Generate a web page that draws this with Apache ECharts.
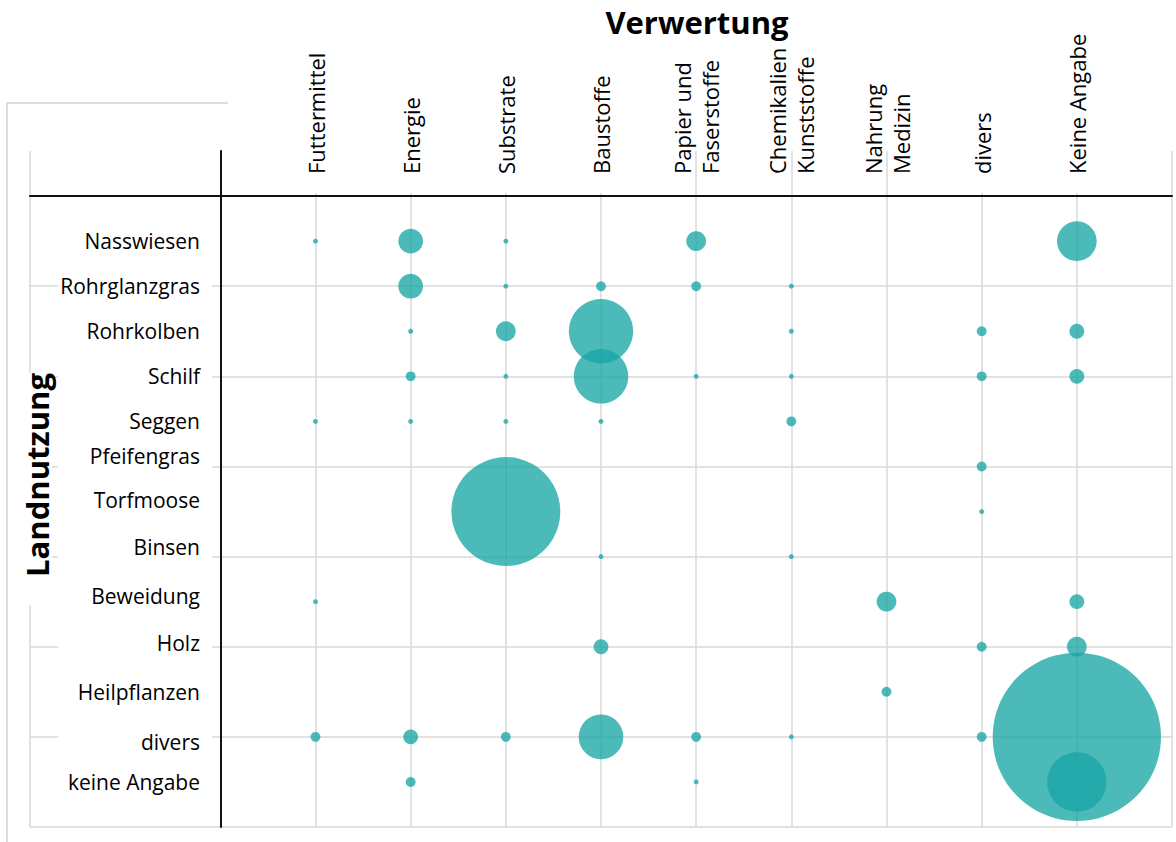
<!DOCTYPE html>
<html>
<head>
<meta charset="utf-8">
<script src="https://cdn.jsdelivr.net/npm/echarts@6/dist/echarts.min.js"></script>
<style>
html,body{margin:0;padding:0;background:#fff;}
#chart{width:1176px;height:842px;}
</style>
</head>
<body>
<div id="chart"></div>
<script>
// Column categories (Verwertung)
const xCategories = ['Futtermittel', 'Energie', 'Substrate', 'Baustoffe', 'Papier und\nFaserstoffe',
  'Chemikalien\nKunststoffe', 'Nahrung\nMedizin', 'divers', 'Keine Angabe'];
// Row categories (Landnutzung)
const yCategories = ['Nasswiesen', 'Rohrglanzgras', 'Rohrkolben', 'Schilf', 'Seggen', 'Pfeifengras',
  'Torfmoose', 'Binsen', 'Beweidung', 'Holz', 'Heilpflanzen', 'divers', 'keine Angabe'];

// Counts per row, in the order of xCategories (0 = no bubble)
const nasswiesen     = [1, 5, 1, 0, 4, 0, 0, 0, 8];
const rohrglanzgras  = [0, 5, 1, 2, 2, 1, 0, 0, 0];
const rohrkolben     = [0, 1, 4, 13, 0, 1, 0, 2, 3];
const schilf         = [0, 2, 1, 11, 1, 1, 0, 2, 3];
const seggen         = [1, 1, 1, 1, 0, 2, 0, 0, 0];
const pfeifengras    = [0, 0, 0, 0, 0, 0, 0, 2, 0];
const torfmoose      = [0, 0, 22, 0, 0, 0, 0, 1, 0];
const binsen         = [0, 0, 0, 1, 0, 1, 0, 0, 0];
const beweidung      = [1, 0, 0, 0, 0, 0, 4, 0, 3];
const holz           = [0, 0, 0, 3, 0, 0, 0, 2, 4];
const heilpflanzen   = [0, 0, 0, 0, 0, 0, 2, 0, 0];
const diversRow      = [2, 3, 2, 9, 2, 1, 0, 2, 34];
const keineAngabeRow = [0, 2, 0, 0, 1, 0, 0, 0, 12];

const rows = [nasswiesen, rohrglanzgras, rohrkolben, schilf, seggen, pfeifengras, torfmoose,
  binsen, beweidung, holz, heilpflanzen, diversRow, keineAngabeRow];

const data = [];
rows.forEach((row, r) => {
  row.forEach((v, c) => {
    if (v > 0) data.push([c + 1, r + 1, v]);
  });
});

const FONT = 'Open Sans';
const GRID_GRAY = '#d9d9d9';

// label style variants (small vertical nudges of some row labels, as in the original layout)
const labelStyleOf = ['b', 'b', 'b', 'b', 'b', 'u10', 'u12', 'u10', 'u6', 'u4', 'b', 'd5', 'b'];
const richBase = {fontFamily: FONT, fontSize: 21, color: '#000', align: 'right', width: 142,
  lineHeight: 25, backgroundColor: '#fff'};
const yRich = {
  b:   Object.assign({}, richBase, {padding: [10, 12, 10, 0]}),
  u4:  Object.assign({}, richBase, {padding: [6, 12, 14, 0]}),
  u6:  Object.assign({}, richBase, {padding: [4, 12, 16, 0]}),
  u10: Object.assign({}, richBase, {padding: [0, 12, 20, 0]}),
  u12: Object.assign({}, richBase, {padding: [0, 12, 24, 0]}),
  d5:  Object.assign({}, richBase, {padding: [15, 12, 5, 0]})
};

const chart = echarts.init(document.getElementById('chart'), null, {renderer: 'svg'});

chart.setOption({
  backgroundColor: '#fff',
  animation: false,
  title: {
    text: 'Verwertung',
    left: 692,
    textAlign: 'center',
    top: 1,
    textStyle: {fontFamily: FONT, fontWeight: 'bold', fontSize: 31, color: '#000'}
  },
  grid: {left: 30, right: 4, top: 151, bottom: 15, containLabel: false, outerBoundsMode: 'none'},
  xAxis: {
    type: 'value',
    position: 'top',
    min: -2, max: 10, interval: 1,
    axisLine: {onZero: true, lineStyle: {color: '#111', width: 2}},
    axisTick: {show: false},
    splitLine: {
      show: true,
      lineStyle: {width: 1.5, color: [GRID_GRAY, 'transparent', GRID_GRAY, GRID_GRAY, GRID_GRAY, GRID_GRAY,
        GRID_GRAY, GRID_GRAY, GRID_GRAY, GRID_GRAY, GRID_GRAY, GRID_GRAY, GRID_GRAY]}
    },
    axisLabel: {
      rotate: 90,
      margin: -42,
      hideOverlap: false,
      fontFamily: FONT, fontSize: 22, color: '#000', lineHeight: 28,
      formatter: v => (v >= 1 && v <= xCategories.length) ? '{b|' + xCategories[v - 1].split('\n').join('}\n{b|') + '}' : '',
      rich: {b: {fontFamily: FONT, fontSize: 22, color: '#000', lineHeight: 28, backgroundColor: '#fff', padding: [0, 0, 0, 19]}}
    }
  },
  yAxis: {
    type: 'value',
    inverse: true,
    min: -1, max: 14, interval: 1,
    name: 'Landnutzung',
    nameLocation: 'middle',
    nameGap: -22,
    nameMoveOverlap: false,
    nameTextStyle: {fontFamily: FONT, fontWeight: 'bold', fontSize: 31, color: '#000',
      backgroundColor: '#fff', padding: [0, 0, 0, 28]},
    axisLine: {onZero: true, lineStyle: {color: '#111', width: 2}},
    axisTick: {show: false},
    splitLine: {show: true, lineStyle: {width: 1.5, color: ['transparent', GRID_GRAY]}},
    axisLabel: {
      margin: -182,
      hideOverlap: false,
      fontFamily: FONT, fontSize: 21, color: '#000',
      formatter: v => (v >= 1 && v <= yCategories.length) ? '{' + labelStyleOf[v - 1] + '|' + yCategories[v - 1] + '}' : '',
      rich: yRich
    }
  },
  graphic: [
    {type: 'line', shape: {x1: 7, y1: 103, x2: 228, y2: 103}, style: {stroke: '#d0d0d0', lineWidth: 1.5}, z: -1},
    {type: 'line', shape: {x1: 7, y1: 103, x2: 7, y2: 842}, style: {stroke: '#d0d0d0', lineWidth: 1.5}, z: -1}
  ],
  series: [{
    type: 'scatter',
    data: data,
    symbol: 'circle',
    symbolSize: d => d[2] * 4.95,
    itemStyle: {color: '#18a5a5', opacity: 0.77},
    z: 5
  }]
});
</script>
</body>
</html>
